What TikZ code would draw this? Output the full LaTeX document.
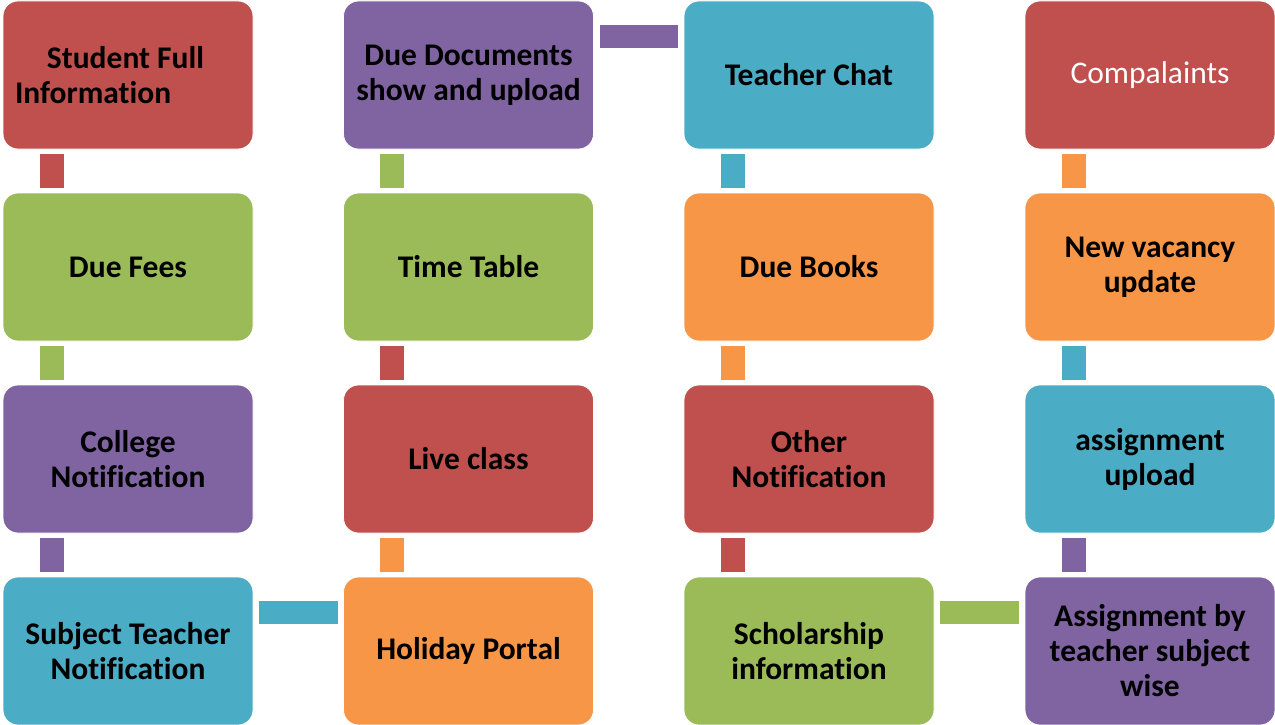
\documentclass[tikz,border=0pt]{standalone}
\usepackage{fontspec}
\setmainfont{Carlito}[RawFeature=-liga]
\definecolor{boxred}{HTML}{C0504D}
\definecolor{boxgreen}{HTML}{9BBB59}
\definecolor{boxpurple}{HTML}{8064A2}
\definecolor{boxcyan}{HTML}{4BACC6}
\definecolor{boxorange}{HTML}{F79646}
\tikzset{
  box/.style={rectangle, rounded corners=15pt, minimum width=250pt, minimum height=148pt,
    inner sep=0pt, draw=white, line width=0.8pt, align=center,
    font=\fontsize{31.5}{35}\selectfont\bfseries},
  vbar/.style={line width=24pt, shorten <=5pt, shorten >=5pt},
  hbar/.style={line width=23pt, shorten <=6pt, shorten >=5.5pt}
}
\begin{document}
\begin{tikzpicture}[x=1pt,y=-1pt]
    \useasboundingbox (0,0) rectangle (1275,725);
    \node[box,fill=boxred,text width=226pt,align=flush left] (info) at (128,75) {\hspace*{32pt}Student Full\\Information};
    \node[box,fill=boxgreen] (fees) at (128,267) {Due Fees};
    \node[box,fill=boxpurple] (college) at (128,459) {College\\Notification};
    \node[box,fill=boxcyan] (subject) at (128,651) {Subject Teacher\\Notification};
    \node[box,fill=boxpurple] (docs) at (468.5,75) {Due Documents\\show and upload};
    \node[box,fill=boxgreen] (table) at (468.5,267) {Time Table};
    \node[box,fill=boxred] (live) at (468.5,459) {Live class};
    \node[box,fill=boxorange] (holiday) at (468.5,651) {Holiday Portal};
    \node[box,fill=boxcyan] (chat) at (809,75) {Teacher Chat};
    \node[box,fill=boxorange] (books) at (809,267) {Due Books};
    \node[box,fill=boxred] (other) at (809,459) {Other\\Notification};
    \node[box,fill=boxgreen] (scholar) at (809,651) {Scholarship\\information};
    \node[box,fill=boxred,text=white,font=\fontsize{31.5}{35}\selectfont] (complaints) at (1150,75) {Compalaints};
    \node[box,fill=boxorange] (vacancy) at (1150,267) {New vacancy\\update};
    \node[box,fill=boxcyan] (upload) at (1150,459) {assignment\\upload};
    \node[box,fill=boxpurple] (bysubject) at (1150,651) {Assignment by\\teacher subject\\wise};
    \foreach \a/\b/\c in {info/fees/boxred,fees/college/boxgreen,college/subject/boxpurple,
        docs/table/boxgreen,table/live/boxred,live/holiday/boxorange,
        chat/books/boxcyan,books/other/boxorange,other/scholar/boxred,
        complaints/vacancy/boxorange,vacancy/upload/boxcyan,upload/bysubject/boxpurple}
      \draw[vbar,\c] ([xshift=49pt]\a.south west) -- ([xshift=49pt]\b.north west);
    \foreach \a/\b/\c in {subject/holiday/boxcyan,docs/chat/boxpurple,scholar/bysubject/boxgreen}
      \draw[hbar,\c] ([yshift=-35.5pt]\a.north east) -- ([yshift=-35.5pt]\b.north west);
\end{tikzpicture}
\end{document}
